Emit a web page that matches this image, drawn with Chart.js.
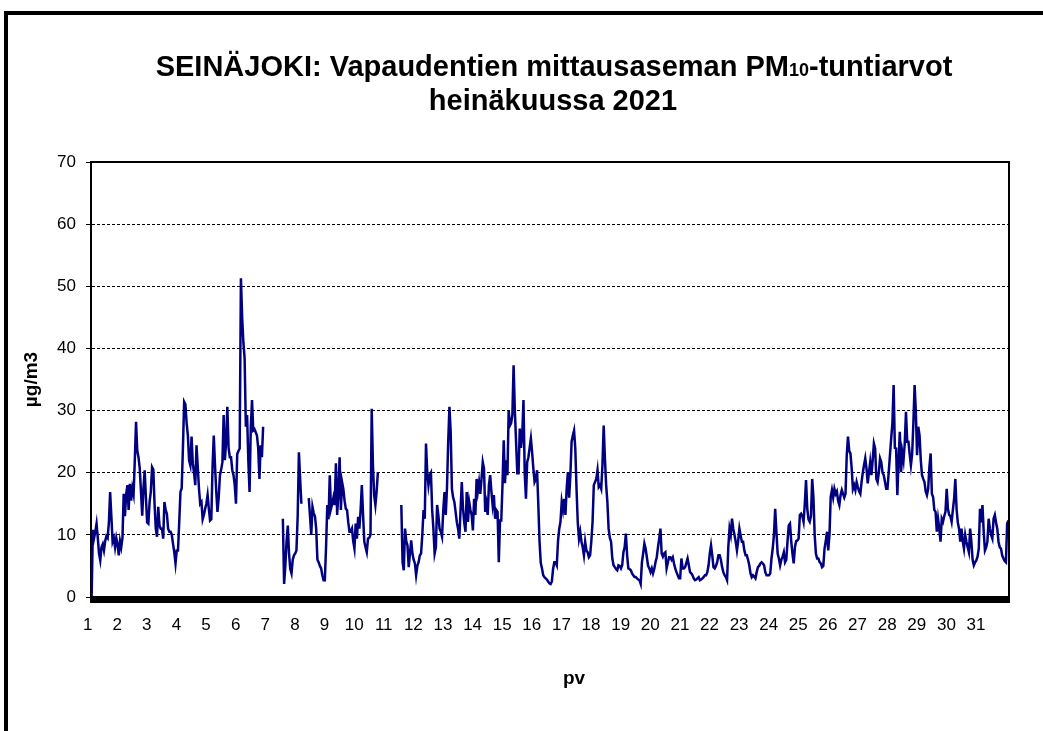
<!DOCTYPE html>
<html>
<head>
<meta charset="utf-8">
<title>SEINÄJOKI PM10 heinäkuu 2021</title>
<script src="https://cdn.jsdelivr.net/npm/chart.js@4.4.1/dist/chart.umd.min.js"></script>
<style>
  html, body { margin: 0; padding: 0; background: #fff; }
</style>
</head>
<body>
<canvas id="pmChart" width="1043" height="731"></canvas>
<script>
// day numbers shown on the x axis
const dayLabels = ["1","2","3","4","5","6","7","8","9","10","11","12","13","14","15","16",
  "17","18","19","20","21","22","23","24","25","26","27","28","29","30","31"];

const yTicks = [0, 10, 20, 30, 40, 50, 60, 70];

const titleLine1 = ["SEINÄJOKI: Vapaudentien mittausaseman PM", "10", "-tuntiarvot"];
const titleLine2 = "heinäkuussa 2021";
const yTitle = "µg/m3";
const xTitle = "pv";

// hourly PM10 values (µg/m3), one row per day, null = missing hour
const pm10Hourly = [
  0, 10.8, 9.5, 10.5, 11.8, 9.5, 7, 5.9, 8, 8.5, 7.5, 9, 9.8, 9.5, 12, 16.9, 13, 8.9, 9.5, 8, 9.5, 8.5, 6.7, 9,
  8, 9.5, 16.6, 13, 16.5, 18, 14, 18.2, 15.5, 17.5, 16.5, 22, 28.2, 23.5, 22.5, 20.7, 17, 13.1, 17.5, 20.4, 16, 12, 11.8, 15.3,
  17, 20.9, 20.5, 15, 11, 9.7, 14.5, 11.5, 11, 11, 9.4, 15.3, 14, 13.4, 11, 10.5, 10.5, 10, 8.5, 7.2, 5.4, 7.5, 7.5, 12,
  16.9, 17.5, 24, 31.4, 31, 28, 26, 22, 21.2, 25.8, 21.5, 20, 18, 24.4, 21, 17.5, 15, 15.3, 12.5, 13.2, 14.2, 15, 16.4, 14.2,
  12.3, 12.5, 20.9, 26, 21.2, 17, 13.7, 16, 19.6, 20.5, 21.7, 29.3, 22, 25, 30.6, 24, 22.5, 22.5, 20.4, 19.6, 18, 15, 23, 23.5,
  23.9, 51.3, 45, 41, 38.4, 27.4, 29.3, 22, 16.9, 27.4, 31.7, 26.8, 27, 26.5, 26, 24, 19, 24.4, 22.5, 27.4, null, null, null, null,
  null, null, null, null, null, null, null, null, null, null, null, 12.6, 2.1, 5, 9, 11.5, 7, 4.5, 3.8, 6, 6.7, 7, 7.5, 13,
  23.3, 19, 15, null, null, null, null, null, 15.9, 13, 10, 14.5, 13.5, 13, 11, 6, 5.6, 5, 4.6, 3.5, 2.7, 2.7, 8, 14.8,
  12.5, 19.6, 14.2, 15, 16, 14.8, 21.5, 13.2, 17, 22.5, 14, 18.5, 17.4, 15.5, 14.2, 14, 12, 10.5, 10.5, 11, 9, 7.8, 11.8, 9.4,
  12.9, 11, 14, 18, 13.2, 8.9, 8, 7.2, 9.4, 9.5, 10, 30.3, 21.2, 16.4, 14.8, 17, 20.1, null, null, null, null, null, null, null,
  null, null, null, null, null, null, null, null, null, null, null, 14.8, 5.6, 4.3, 11, 9, 8.3, 4.8, 7, 9.1, 7, 6, 5.4, 3.5,
  5, 5.6, 6.7, 7, 10, 14, 12.6, 24.7, 20.1, 18, 19.6, 20, 14, 11, 7, 8, 14.8, 13.2, 11, 10.5, 9.7, 14, 16.9, 13.2,
  17.5, 25, 30.6, 26.6, 17.4, 16, 15.3, 13.7, 12, 11, 9.4, 14, 18.5, 14.2, 12, 10.5, 16.9, 12.1, 15.3, 14, 13.2, 10.7, 15.8, 13.2,
  19, 17, 18.5, 16.6, 19, 21.7, 20.7, 13.7, 15, 13.2, 18, 19.6, 17, 14.8, 16.4, 12.6, 14, 13.7, 5.6, 12.3, 12.3, 18, 25.2, 18.3,
  22, 19.6, 30, 27.6, 28, 29.3, 37.3, 30, 25, 19.9, 19.9, 27.1, 24, 26, 31.7, 20, 15.8, 21.7, 22.5, 24, 25.5, 23.3, 20.7, 18.5,
  19, 20.4, 15, 9, 5.5, 4.6, 3.5, 3.2, 3, 2.8, 2.5, 2.2, 2.1, 2.5, 4.5, 5.6, 5.6, 5.1, 9, 11, 12.1, 15.3, 14, 15.8,
  13.2, 17.4, 20.1, 16, 19.6, 25, 26, 26.8, 23.9, 17.4, 12, 9.4, 10.5, 8.9, 8, 6.7, 8.9, 7.5, 7.2, 6.4, 6.7, 9, 12.1, 18,
  18.5, 19, 20.4, 17.7, 18, 17.4, 21.2, 27.6, 22.3, 18, 15.3, 11, 9.5, 8.9, 6.2, 5.1, 4.8, 4.5, 4.3, 5.1, 5, 4.6, 5.1, 7.2,
  8, 10.2, 6.7, 4.6, 4.5, 4.3, 3.8, 3.5, 3.2, 3.2, 3, 2.8, 2.7, 2.1, 5.6, 7, 8.6, 7.8, 6.4, 5, 4.6, 4, 4.6, 3.8,
  4.5, 5.6, 6.4, 8, 9.4, 11, 7, 6.5, 7, 7.2, 4.6, 5.5, 6.4, 6.4, 6, 6.4, 5.4, 4.6, 4, 3.5, 3, 3, 6.2, 4.6,
  4.6, 4.8, 5.5, 6.2, 5.1, 4, 3.8, 3.5, 3, 2.7, 2.8, 3, 3.2, 2.7, 2.8, 3, 3.2, 3.5, 3.5, 4, 5.1, 7, 8.3, 6.7,
  4.8, 4.6, 5, 5.6, 6.7, 6.7, 6, 4.8, 4, 3.5, 3.2, 2.7, 8, 11, 10, 12.6, 11, 10, 8.9, 7.5, 9, 11, 9.9, 8.9,
  8.9, 7.5, 6.7, 6.7, 6, 5.1, 3.8, 3.2, 3.5, 3.3, 3, 4, 4.8, 5, 5.4, 5.6, 5.4, 5.1, 4, 3.5, 3.5, 3.5, 3.8, 6.2,
  7.8, 10, 14.2, 10.5, 7, 6.2, 5.1, 6, 6.5, 7.2, 5.6, 6, 9, 11.5, 11.8, 9, 7, 5.4, 8, 9, 9.1, 9.4, 13.2, 13.4,
  13, 12.1, 15, 18.8, 14.2, 12.5, 12.1, 13, 19, 16, 10, 7, 6.2, 6.2, 5.6, 5.4, 4.8, 5, 7.8, 9, 10.5, 7.5, 10, 16.1,
  17.2, 16, 17.4, 16.6, 17, 15.5, 14.8, 16.4, 17.2, 16.6, 16, 16.6, 22.8, 25.8, 23.5, 23.1, 20.7, 17.4, 18, 17.2, 18.5, 17.7, 17, 16.6,
  18.5, 20, 21.2, 22.3, 20.7, 18.3, 20, 21.7, 19.6, 22, 24.7, 23.9, 19, 18.5, 20, 22.3, 21.7, 20, 19.6, 18.5, 17.4, 17.4, 20, 22.8,
  25.5, 28, 34.1, 24, 23.9, 16.4, 22, 26.6, 20.1, 23.3, 22, 24.7, 29.8, 25, 25, 23, 21.2, 23, 28, 34.1, 29.8, 22.8, 27.4, 26,
  22, 19.6, 19, 18.5, 17, 16.4, 17.4, 21, 23.1, 16.6, 16.1, 14, 13.7, 10.5, 12.6, 11, 8.9, 12.6, 12.1, 13, 13.7, 17.4, 14.2, 13.2,
  13, 12.1, 14, 15.8, 19, 14.2, 12, 11, 8.9, 11, 9, 7.8, 10, 8.9, 8, 7.2, 11, 8.9, 6, 5.1, 5.6, 5.9, 6.5, 7.8,
  14.2, 12, 14.8, 10.5, 7.5, 8, 8.9, 12.6, 11, 10, 9.4, 12.6, 13.2, 12, 11, 8.9, 8, 7.8, 6.7, 6.2, 5.8, 5.6, 11.8, 12.3
];

const hourIndex = pm10Hourly.map((v, i) => i);
const FONT = '"Liberation Sans", Arial, sans-serif';

// outer frame, plot border, thick x axis and the texts Excel puts around the plot
const decor = {
  id: 'decor',
  beforeDraw(chart) {
    const ctx = chart.ctx;
    ctx.save();
    ctx.fillStyle = '#fff';
    ctx.fillRect(0, 0, chart.width, chart.height);
    ctx.fillStyle = '#000';
    ctx.fillRect(4, 11, chart.width - 4, 4);
    ctx.fillRect(4, 11, 4, chart.height - 11);
    ctx.restore();
  },
  afterDatasetsDraw(chart) {
    const ctx = chart.ctx, a = chart.chartArea;
    ctx.save();
    ctx.strokeStyle = '#000';
    ctx.lineWidth = 2;
    ctx.beginPath();
    ctx.moveTo(a.left, a.top);
    ctx.lineTo(a.right, a.top);
    ctx.lineTo(a.right, a.bottom);
    ctx.stroke();
    ctx.fillStyle = '#000';
    ctx.fillRect(a.left - 1, a.bottom - 1, a.right - a.left + 2, 7);
    ctx.restore();
  },
  afterDraw(chart) {
    const ctx = chart.ctx;
    ctx.save();
    ctx.fillStyle = '#000';
    ctx.textBaseline = 'alphabetic';
    ctx.textAlign = 'left';
    // title line 1 with small "10"
    const sizes = [29, 18, 29];
    let total = 0;
    titleLine1.forEach((t, k) => {
      ctx.font = 'bold ' + sizes[k] + 'px ' + FONT;
      total += ctx.measureText(t).width;
    });
    let x = 554 - total / 2;
    titleLine1.forEach((t, k) => {
      ctx.font = 'bold ' + sizes[k] + 'px ' + FONT;
      ctx.fillText(t, x, 76);
      x += ctx.measureText(t).width;
    });
    ctx.textAlign = 'center';
    ctx.font = 'bold 29px ' + FONT;
    ctx.fillText(titleLine2, 553, 110);
    ctx.font = 'bold 19px ' + FONT;
    ctx.fillText(xTitle, 574, 684);
    ctx.restore();
  }
};

new Chart(document.getElementById("pmChart"), {
  type: "line",
  data: {
    labels: hourIndex,
    datasets: [{
      label: "PM10",
      data: pm10Hourly,
      borderColor: "#000080",
      borderWidth: 2.5,
      pointRadius: 0,
      tension: 0,
      spanGaps: false,
      fill: false
    }]
  },
  options: {
    responsive: false,
    animation: false,
    devicePixelRatio: 1,
    layout: { padding: { left: 15, top: 162, right: 34, bottom: 0 } },
    plugins: { legend: { display: false }, tooltip: { enabled: false } },
    scales: {
      x: {
        type: "linear",
        min: -0.5,
        max: 743.5,
        afterBuildTicks: s => { s.ticks = dayLabels.map((d, k) => ({ value: k * 24 })); },
        afterFit: s => { s.height = 134; },
        grid: { display: false },
        border: { display: false },
        ticks: {
          autoSkip: false,
          maxRotation: 0,
          padding: 10,
          labelOffset: -4,
          color: "#000",
          font: { family: FONT, size: 17 },
          callback: v => dayLabels[Math.round(v / 24)]
        }
      },
      y: {
        min: yTicks[0],
        max: yTicks[yTicks.length - 1],
        afterBuildTicks: s => { s.ticks = yTicks.map(v => ({ value: v })); },
        afterFit: s => { s.width = 76; },
        grid: { color: "#000", lineWidth: 1, tickLength: 5, tickColor: "#000", tickBorderDash: [], tickWidth: 1 },
        border: { display: true, color: "#000", width: 2, dash: [3, 2] },
        ticks: { padding: 10, color: "#000", font: { family: FONT, size: 17 } },
        title: {
          display: true,
          text: yTitle,
          color: "#000",
          font: { family: FONT, size: 19, weight: "bold" },
          padding: { top: 5, bottom: 0 }
        }
      }
    }
  },
  plugins: [decor]
});
</script>
</body>
</html>
